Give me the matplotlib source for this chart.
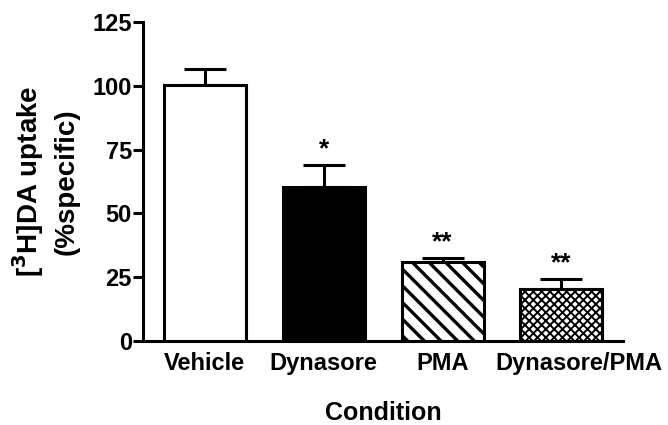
import matplotlib
matplotlib.use('Agg')
import matplotlib.pyplot as plt
from matplotlib.transforms import ScaledTranslation

plt.rcParams['font.family'] = ['Liberation Sans', 'DejaVu Sans']
plt.rcParams['font.weight'] = 'bold'
plt.rcParams['hatch.linewidth'] = 2.4

CONDITIONS = ['Vehicle', 'Dynasore', 'PMA', 'Dynasore/PMA']
UPTAKE = [100.5, 60.3, 31.0, 20.5]
SEM = [6.3, 8.8, 1.4, 3.7]
STARS = ['', '*', '**', '**']
FACES = ['white', 'black', 'white', 'white']
HATCHES = ['', '', '\\\\', 'xxxx']

fig = plt.figure(figsize=(6.68, 4.25), dpi=100)
ax = fig.add_axes([0.214, 0.198, 0.719, 0.750])

x = range(len(CONDITIONS))
bars = ax.bar(x, UPTAKE, width=0.69, color=FACES, edgecolor='black',
              linewidth=2.2, zorder=3)
for b, h in zip(bars, HATCHES):
    if h:
        b.set_hatch(h)
        if h.startswith('x') and hasattr(b, 'set_hatch_linewidth'):
            b.set_hatch_linewidth(1.4)

ax.errorbar(x, UPTAKE, yerr=[[0] * len(SEM), SEM], fmt='none', ecolor='black',
            elinewidth=2.2, capsize=15, capthick=2.2, zorder=2)

for i, s in enumerate(STARS):
    if s:
        ax.text(i, UPTAKE[i] + SEM[i] + 1.5, s, ha='center', va='bottom',
                fontsize=19, fontweight='bold')

ax.set_xlim(-0.52, 3.52)
ax.set_ylim(0, 125)
ax.set_yticks([0, 25, 50, 75, 100, 125])
ax.set_xticks(list(x))
ax.set_xticklabels(CONDITIONS, fontsize=17, fontweight='bold')
ax.tick_params(axis='x', length=0, pad=8)
ax.tick_params(axis='y', length=7, width=2.2, labelsize=17, pad=1)
for lbl in ax.get_yticklabels():
    lbl.set_fontweight('bold')
# last category label sits a little right of its bar in the original
last = ax.get_xticklabels()[-1]
last.set_transform(last.get_transform() + ScaledTranslation(0.17, 0, fig.dpi_scale_trans))

for side in ['top', 'right']:
    ax.spines[side].set_visible(False)
for side in ['left', 'bottom']:
    ax.spines[side].set_linewidth(2.2)

ax.set_ylabel('[$\\mathbf{^3}$H]DA uptake\n(%specific)', fontsize=20,
              fontweight='bold', labelpad=9, linespacing=1.4)
ax.set_xlabel('Condition', fontsize=18, fontweight='bold', labelpad=19)

fig.savefig('out.png', dpi=100)
